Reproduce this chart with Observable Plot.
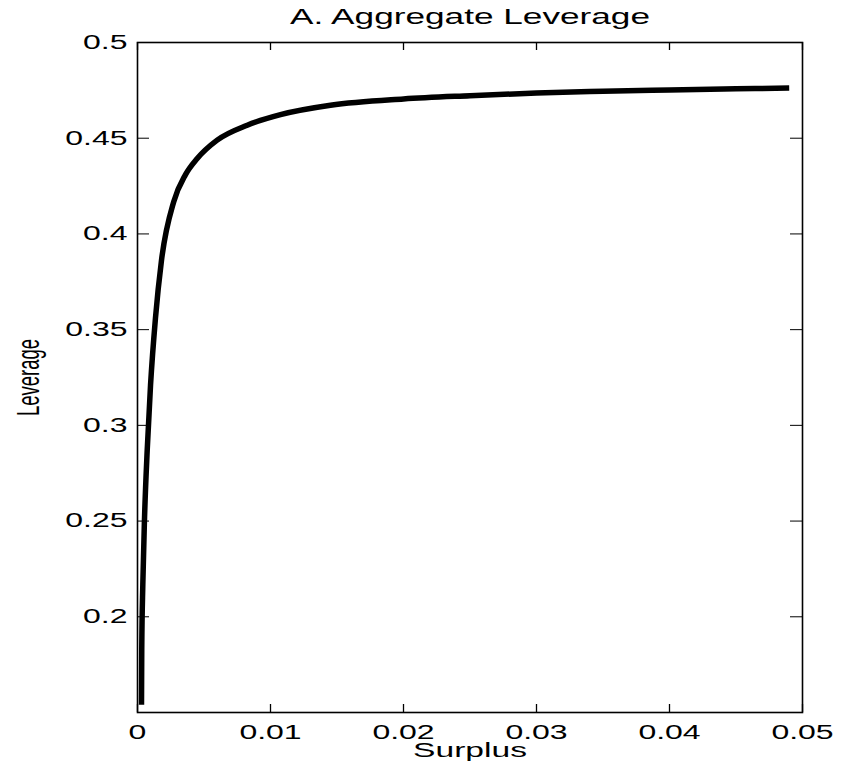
<!DOCTYPE html>
<html><head><meta charset="utf-8">
<script src="https://cdn.jsdelivr.net/npm/d3@7"></script>
<script src="https://cdn.jsdelivr.net/npm/@observablehq/plot@0.6"></script>
<style>body{margin:0;background:#fff;}</style>
</head><body><div id="chart"></div>
<script>
const surplus  = [0.0003, 0.00032, 0.0004, 0.00053, 0.00073, 0.00098, 0.00135, 0.0018, 0.00273, 0.00361, 0.00449, 0.00599, 0.00825, 0.01075, 0.01451, 0.02, 0.025, 0.03, 0.035, 0.04, 0.045, 0.049];
const leverage = [0.154, 0.183, 0.217, 0.252, 0.287, 0.321, 0.356, 0.386, 0.417, 0.431, 0.4394, 0.449, 0.4568, 0.4623, 0.4672, 0.4705, 0.4722, 0.4736, 0.4745, 0.4752, 0.4758, 0.4762];
const xTicks = [0, 0.01, 0.02, 0.03, 0.04, 0.05];
const xTickLabels = ["0", "0.01", "0.02", "0.03", "0.04", "0.05"];
const yTicks = [0.2, 0.25, 0.3, 0.35, 0.4, 0.45, 0.5];
const yTickLabels = ["0.2", "0.25", "0.3", "0.35", "0.4", "0.45", "0.5"];
const titleText = "A. Aggregate Leverage";
const xLabelText = "Surplus";
const yLabelText = "Leverage";

const data = surplus.map((s, i) => ({surplus: s, leverage: leverage[i]}));
const W = 841, H = 763, mL = 137, mR = 39, mT = 42, mB = 51;
const fw = W - mL - mR, fh = H - mT - mB;

const chart = Plot.plot({
  width: W, height: H,
  marginLeft: mL, marginRight: mR, marginTop: mT, marginBottom: mB,
  style: {fontFamily: "'Liberation Sans', Arial, sans-serif", background: "#fff", color: "#000"},
  x: {domain: [0, 0.05]},
  y: {domain: [0.15, 0.5]},
  marks: [
    Plot.tickX(xTicks, {x: d => d, stroke: "#000", strokeWidth: 1.3, insetTop: fh - 8}),
    Plot.tickX(xTicks, {x: d => d, stroke: "#000", strokeWidth: 1.3, insetBottom: fh - 8}),
    Plot.tickY(yTicks, {y: d => d, stroke: "#000", strokeWidth: 1, insetRight: fw - 12}),
    Plot.tickY(yTicks, {y: d => d, stroke: "#000", strokeWidth: 1, insetLeft: fw - 12}),
    Plot.line(data, {x: "surplus", y: "leverage", stroke: "#000", strokeWidth: 5.5, curve: "monotone-x", strokeLinecap: "butt"}),
    Plot.frame({stroke: "#000", strokeWidth: 1.6}),
    Plot.axisX({ticks: xTicks, tickFormat: d => xTickLabels[xTicks.indexOf(d)], tickSize: 0, tickPadding: 12, fontSize: 20, label: null}),
    Plot.axisY({ticks: yTicks, tickFormat: d => yTickLabels[yTicks.indexOf(d)], tickSize: 0, tickPadding: 10, fontSize: 20, label: null}),
    Plot.text([titleText], {frameAnchor: "top", dy: -34, fontSize: 22, fill: "#000"}),
    Plot.text([xLabelText], {frameAnchor: "bottom", dy: 44, fontSize: 21, fill: "#000"}),
    Plot.text([yLabelText], {frameAnchor: "left", textAnchor: "middle", dx: -109, rotate: -90, fontSize: 22, fill: "#000"})
  ]
});
document.getElementById("chart").appendChild(chart);

// the reference figure is stretched horizontally; reproduce that on its texts
const svgns = "http://www.w3.org/2000/svg";
Array.from(chart.querySelectorAll("text")).forEach(t => {
  const r = t.getBoundingClientRect();
  const isY = t.textContent === yLabelText;
  const anchor = getComputedStyle(t).textAnchor;
  let px = (r.left + r.right) / 2;
  if (!isY && anchor === "end") px = r.right;
  else if (!isY && anchor === "start") px = r.left;
  const py = (r.top + r.bottom) / 2;
  const parent = t.parentNode;
  const pt = chart.createSVGPoint();
  pt.x = px; pt.y = py;
  const lp = pt.matrixTransform(parent.getScreenCTM().inverse());
  const sx = isY ? 1.45 : 1.6, sy = isY ? 0.84 : 1;
  const g = document.createElementNS(svgns, "g");
  g.setAttribute("transform", `translate(${lp.x},${lp.y}) scale(${sx},${sy}) translate(${-lp.x},${-lp.y})`);
  parent.insertBefore(g, t);
  g.appendChild(t);
});
</script>
</body></html>
